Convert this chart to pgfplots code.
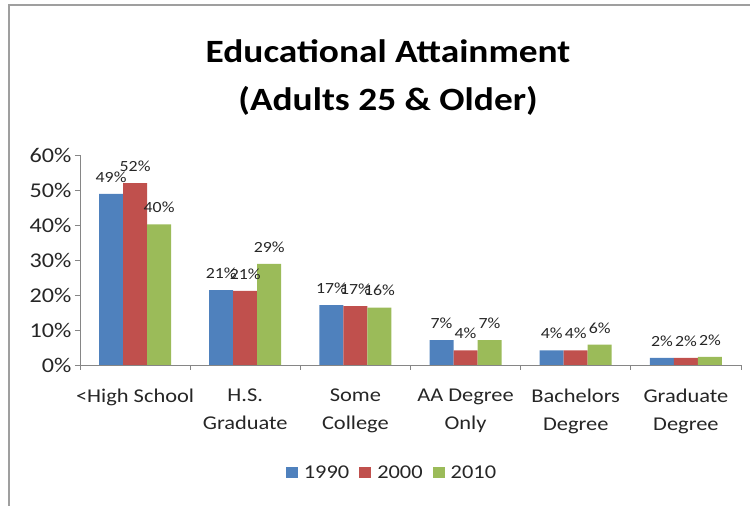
\documentclass[border=0pt]{standalone}
\usepackage{fontspec}
\setmainfont{Carlito}[FakeStretch=1.15]
\usepackage{pgfplots}
\pgfplotsset{compat=1.18}
\definecolor{c1990}{HTML}{4F81BD}
\definecolor{c2000}{HTML}{C0504D}
\definecolor{c2010}{HTML}{9BBB59}
\definecolor{axisgray}{HTML}{868686}
\definecolor{txt}{HTML}{262626}
\begin{document}
\begin{tikzpicture}
\useasboundingbox (0pt,0pt) rectangle (750pt,506pt);
\draw[draw=gray!75, line width=1.6pt] (9pt,0pt) -- (9pt,501pt) -- (750pt,501pt);
\node[font=\fontsize{32.5}{48}\selectfont\bfseries, align=center, text=black] at (388pt,428pt)
  {Educational Attainment\\(Adults 25 \& Older)};
\begin{axis}[
    at={(80pt,141pt)}, anchor=south west,
    scale only axis, width=661pt, height=210pt,
    ybar=0pt, bar width=24pt,
    xmin=-0.5, xmax=5.5, ymin=0, ymax=60,
    axis x line*=bottom, axis y line*=left,
    axis line style={draw=axisgray, line width=0.8pt, -},
    tick style={draw=axisgray, line width=0.8pt},
    tick align=outside, major tick length=5pt,
    ytick={0,10,20,30,40,50,60},
    yticklabels={0\%,10\%,20\%,30\%,40\%,50\%,60\%},
    x tick label as interval,
    xtick={-0.5,0.5,1.5,2.5,3.5,4.5,5.5},
    xticklabels={{<High School},{H.S.\\Graduate},{Some\\College},{AA Degree\\Only},{Bachelors\\Degree},{Graduate\\Degree}},
    xticklabel style={align=center, font=\fontsize{19.5}{28}\selectfont, text=txt, anchor=north, yshift=-15pt},
    yticklabel style={font=\fontsize{21}{24}\selectfont, text=txt},
    /pgf/number format/assume math mode=true,
    nodes near coords={\pgfmathprintnumber[precision=0]{\pgfplotspointmeta}\%},
    every node near coord/.append style={font=\fontsize{15.5}{17}\selectfont, text=txt, yshift=8pt},
    legend style={at={(0.472,-0.514)}, anchor=center, draw=none, fill=none,
        font=\fontsize{19.5}{22}\selectfont, text=txt,
        /tikz/every odd column/.append style={column sep=4pt},
        /tikz/every even column/.append style={column sep=8pt}},
    legend columns=3,
    legend image code/.code={\fill[#1] (0pt,-5pt) rectangle (12pt,6pt);},
]
\addplot[fill=c1990, draw=none] coordinates {(0,48.9) (1,21.4) (2,17.1) (3,7.1) (4,4.2) (5,2.0)};
\addlegendentry{1990}
\addplot[fill=c2000, draw=none] coordinates {(0,52.0) (1,21.2) (2,16.8) (3,4.2) (4,4.2) (5,2.0)};
\addlegendentry{2000}
\addplot[fill=c2010, draw=none] coordinates {(0,40.2) (1,28.9) (2,16.4) (3,7.1) (4,5.8) (5,2.3)};
\addlegendentry{2010}
\end{axis}
\end{tikzpicture}
\end{document}
